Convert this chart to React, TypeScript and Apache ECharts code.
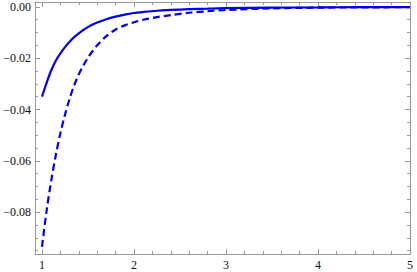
import React, { useEffect, useRef } from "react";
import * as echarts from "echarts";

const xs = [1.0, 1.05, 1.1, 1.15, 1.2, 1.25, 1.3, 1.35, 1.4, 1.45, 1.5, 1.55, 1.6, 1.7, 1.8, 1.9, 2.0, 2.1, 2.25, 2.4, 2.6, 2.8, 3.0, 3.5, 4.0, 4.5, 5.0];
const solidY = [-0.035, -0.0296, -0.0248, -0.021, -0.0181, -0.0157, -0.0136, -0.0118, -0.0103, -0.009, -0.0079, -0.0069, -0.0061, -0.0048, -0.0038, -0.003, -0.0024, -0.002, -0.0015, -0.0012, -0.0009, -0.0007, -0.0005, -0.0003, -0.0002, -0.0001, -0.0001];
const dashY = [-0.0935, -0.0795, -0.0678, -0.0578, -0.0492, -0.042, -0.0358, -0.0306, -0.0263, -0.0228, -0.0198, -0.0172, -0.015, -0.0114, -0.0088, -0.0072, -0.006, -0.005, -0.004, -0.0032, -0.0023, -0.0017, -0.0012, -0.0006, -0.0003, -0.0002, -0.0001];

const xMajor = [1, 2, 3, 4, 5];
const xMinor = [1.2, 1.4, 1.6, 1.8, 2.2, 2.4, 2.6, 2.8, 3.2, 3.4, 3.6, 3.8, 4.2, 4.4, 4.6, 4.8];
const yMajor = [0, -0.02, -0.04, -0.06, -0.08];
const yMinor = [-0.005, -0.01, -0.015, -0.025, -0.03, -0.035, -0.045, -0.05, -0.055, -0.065, -0.07, -0.075, -0.085, -0.09, -0.095];

const X_MIN = 0.924;
const X_MAX = 5.0;
const Y_MIN = -0.0963;
const Y_MAX = 0.0019;

const FRAME = "#999999";
const BLUE = "#0000f0";

export default function App() {
  const ref = useRef<HTMLDivElement>(null);
  useEffect(() => {
    if (!ref.current) return;
    const chart = echarts.init(ref.current, undefined, { renderer: "svg" });
    const font = { fontFamily: "Times New Roman", fontSize: 12, color: "#111" };
    const mkX = (pos: "top" | "bottom", vals: number[], len: number, labels: boolean, line: boolean) => ({
      type: "value",
      position: pos,
      min: X_MIN,
      max: X_MAX,
      axisLine: { show: line, onZero: false, lineStyle: { color: FRAME, width: 1 } },
      axisTick: { show: true, inside: true, length: len, customValues: vals, lineStyle: { color: FRAME } },
      axisLabel: labels
        ? { show: true, customValues: xMajor, margin: 5, formatter: (v: number) => String(Math.round(v)), ...font }
        : { show: false },
      splitLine: { show: false },
    });
    const fmtY = (v: number) => (Math.abs(v) < 1e-9 ? "0.00" : "\u2212" + Math.abs(v).toFixed(2));
    const mkY = (pos: "left" | "right", vals: number[], len: number, labels: boolean, line: boolean) => ({
      type: "value",
      position: pos,
      min: Y_MIN,
      max: Y_MAX,
      axisLine: { show: line, onZero: false, lineStyle: { color: FRAME, width: 1 } },
      axisTick: { show: true, inside: true, length: len, customValues: vals, lineStyle: { color: FRAME } },
      axisLabel: labels
        ? { show: true, customValues: yMajor, margin: 4, formatter: fmtY, ...font }
        : { show: false },
      splitLine: { show: false },
    });
    chart.setOption({
      animation: false,
      grid: { left: 35, right: 7, top: 2, bottom: 18, containLabel: false },
      xAxis: [
        mkX("bottom", xMajor, 5, true, true),
        mkX("bottom", xMinor, 3, false, false),
        mkX("top", xMajor, 5, false, true),
        mkX("top", xMinor, 3, false, false),
      ],
      yAxis: [
        mkY("left", yMajor, 5, true, true),
        mkY("left", yMinor, 3, false, false),
        mkY("right", yMajor, 5, false, true),
        mkY("right", yMinor, 3, false, false),
      ],
      series: [
        {
          type: "line",
          xAxisIndex: 0,
          yAxisIndex: 0,
          data: xs.map((x, i) => [x, solidY[i]]),
          smooth: 0.3,
          showSymbol: false,
          lineStyle: { color: BLUE, width: 2.2 },
        },
        {
          type: "line",
          xAxisIndex: 0,
          yAxisIndex: 0,
          data: xs.map((x, i) => [x, dashY[i]]),
          smooth: 0.3,
          showSymbol: false,
          lineStyle: { color: BLUE, width: 2.2, type: [7, 4] },
        },
      ],
    });
    return () => chart.dispose();
  }, []);
  return <div ref={ref} style={{ width: 417, height: 272, position: "absolute", left: 0, top: 0 }} />;
}
